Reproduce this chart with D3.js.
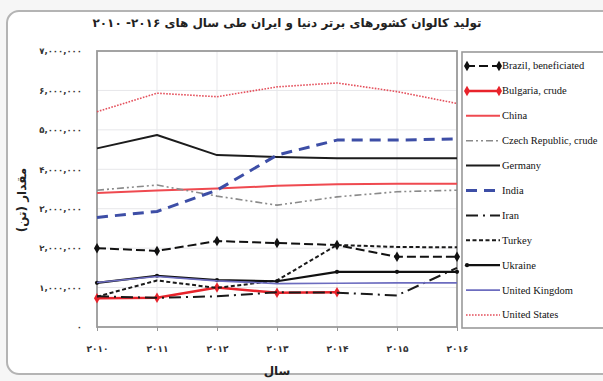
<!DOCTYPE html>
<html>
<head>
<meta charset="utf-8">
<script src="https://cdn.jsdelivr.net/npm/d3@7"></script>
<style>
  html, body { margin: 0; padding: 0; background: #f6f6f6; }
  svg { display: block; }
</style>
</head>
<body>
<svg id="chart" width="603" height="381"></svg>
<script>
// Years on the x axis and their Persian labels
const years = [2010, 2011, 2012, 2013, 2014, 2015, 2016];
const yearLabels = ["۲۰۱۰", "۲۰۱۱", "۲۰۱۲", "۲۰۱۳", "۲۰۱۴", "۲۰۱۵", "۲۰۱۶"];

// Value axis ticks (tonnes) and their Persian labels
const yTickValues = [0, 1000000, 2000000, 3000000, 4000000, 5000000, 6000000, 7000000];
const yTickLabels = ["۰", "۱,۰۰۰,۰۰۰", "۲,۰۰۰,۰۰۰", "۳,۰۰۰,۰۰۰", "۴,۰۰۰,۰۰۰",
                     "۵,۰۰۰,۰۰۰", "۶,۰۰۰,۰۰۰", "۷,۰۰۰,۰۰۰"];

// Kaolin production per country, tonnes
const brazil   = [2000000, 1930000, 2180000, 2130000, 2080000, 1780000, 1780000];
const bulgaria = [730000, 740000, 1000000, 870000, 880000, null, null];
const china    = [3400000, 3460000, 3510000, 3580000, 3620000, 3630000, 3630000];
const czech    = [3470000, 3600000, 3320000, 3090000, 3300000, 3430000, 3470000];
const germany  = [4530000, 4870000, 4360000, 4310000, 4280000, 4280000, 4280000];
const india    = [2780000, 2930000, 3470000, 4360000, 4740000, 4740000, 4770000];
const iran     = [780000, 740000, 780000, 880000, 870000, 800000, 1500000];
const turkey   = [770000, 1180000, 990000, 1180000, 2080000, 2030000, 2020000];
const ukraine  = [1120000, 1300000, 1190000, 1160000, 1400000, 1400000, 1400000];
const uk       = [1130000, 1280000, 1170000, 1100000, 1110000, 1120000, 1120000];
const us       = [5460000, 5930000, 5840000, 6090000, 6190000, 5970000, 5670000];

const seriesNames = ["Brazil, beneficiated", "Bulgaria, crude", "China", "Czech Republic, crude",
  "Germany", "India", "Iran", "Turkey", "Ukraine", "United Kingdom", "United States"];

const series = [
  { name: seriesNames[0],  values: brazil,   color: "#111", width: 2,   dash: "9,4",     marker: "diamond" },
  { name: seriesNames[1],  values: bulgaria, color: "#e8232b", width: 2.5, dash: null,  marker: "diamond" },
  { name: seriesNames[2],  values: china,    color: "#ef4a50", width: 2,   dash: null },
  { name: seriesNames[3],  values: czech,    color: "#8a8a8a", width: 1.6, dash: "7,3,2,3,2,3" },
  { name: seriesNames[4],  values: germany,  color: "#1c1c1c", width: 2,   dash: null },
  { name: seriesNames[5],  values: india,    color: "#3d4ea6", width: 3,   dash: "11,7" },
  { name: seriesNames[6],  values: iran,     color: "#1a1a1a", width: 2,   dash: "12,5,2,5" },
  { name: seriesNames[7],  values: turkey,   color: "#1a1a1a", width: 2,   dash: "4,2.5" },
  { name: seriesNames[8],  values: ukraine,  color: "#111", width: 2.2, dash: null,      marker: "circle" },
  { name: seriesNames[9],  values: uk,       color: "#6c6cbf", width: 1.6, dash: null },
  { name: seriesNames[10], values: us,       color: "#e4505c", width: 1.6, dash: "1.6,1.4" }
];

const svg = d3.select("#chart");
const margin = { left: 97, right: 457, top: 51, bottom: 327 };

// Outer rounded frame
svg.append("rect")
  .attr("x", 7).attr("y", 11).attr("width", 610).attr("height", 363)
  .attr("rx", 12).attr("fill", "#fff")
  .attr("stroke", "#b4b4b4").attr("stroke-width", 2);

const x = d3.scaleLinear().domain([2010, 2016]).range([margin.left, margin.right]);
const y = d3.scaleLinear().domain([0, 7000000]).range([margin.bottom, margin.top]);

// Grid
const grid = svg.append("g");
grid.selectAll("line.h").data(yTickValues.slice(1, -1)).join("line")
  .attr("x1", margin.left).attr("x2", margin.right)
  .attr("y1", d => y(d)).attr("y2", d => y(d))
  .attr("stroke", "#e7e7ea").attr("stroke-width", 1);
grid.selectAll("line.v").data(years.slice(1, -1)).join("line")
  .attr("y1", margin.top).attr("y2", margin.bottom)
  .attr("x1", d => x(d)).attr("x2", d => x(d))
  .attr("stroke", "#e7e7ea").attr("stroke-width", 1);

// Axes
const xAxis = d3.axisBottom(x).tickValues(years)
  .tickFormat((d, i) => yearLabels[i]).tickSize(4).tickPadding(15);
const gx = svg.append("g").attr("transform", `translate(0,${margin.bottom})`).call(xAxis);
gx.select(".domain").remove();
gx.selectAll(".tick line").attr("stroke", "#999");
gx.selectAll("text").attr("font-family", "DejaVu Sans").attr("font-size", 9)
  .attr("font-weight", "bold").attr("fill", "#333");

const yAxis = d3.axisLeft(y).tickValues(yTickValues)
  .tickFormat((d, i) => yTickLabels[i]).tickSize(0).tickPadding(15);
const gy = svg.append("g").attr("transform", `translate(${margin.left},0)`).call(yAxis);
gy.select(".domain").remove();
gy.selectAll("text").attr("font-family", "DejaVu Sans").attr("font-size", 8.5)
  .attr("font-weight", "bold").attr("fill", "#333");

// Plot border
svg.append("rect")
  .attr("x", margin.left).attr("y", margin.top)
  .attr("width", margin.right - margin.left).attr("height", margin.bottom - margin.top)
  .attr("fill", "none").attr("stroke", "#9a9a9a").attr("stroke-width", 1.8);

// Series lines
const line = d3.line()
  .defined(d => d.v !== null)
  .x(d => x(d.year)).y(d => y(d.v));

const diamond = d3.symbol().type(d3.symbolDiamond).size(32);
const circle = d3.symbol().type(d3.symbolCircle).size(14);

const plot = svg.append("g");
series.forEach(s => {
  const pts = years.map((yr, i) => ({ year: yr, v: s.values[i] }));
  plot.append("path").datum(pts)
    .attr("d", line)
    .attr("fill", "none")
    .attr("stroke", s.color)
    .attr("stroke-width", s.width)
    .attr("stroke-dasharray", s.dash)
    .attr("stroke-linejoin", "round");
  if (s.marker) {
    plot.selectAll(null).data(pts.filter(p => p.v !== null)).join("path")
      .attr("transform", p => `translate(${x(p.year)},${y(p.v)})`)
      .attr("d", s.marker === "diamond" ? diamond : circle)
      .attr("fill", s.color);
  }
});

// Legend
const lg = svg.append("g");
lg.append("rect").attr("x", 462).attr("y", 52).attr("width", 150).attr("height", 276)
  .attr("fill", "#fff").attr("stroke", "#9a9a9a").attr("stroke-width", 1.6);
const legendY = i => 66 + i * 24.9;
series.forEach((s, i) => {
  const ly = legendY(i);
  lg.append("line").attr("x1", 466).attr("x2", 500).attr("y1", ly).attr("y2", ly)
    .attr("stroke", s.color).attr("stroke-width", s.width)
    .attr("stroke-dasharray", s.dash);
  if (s.marker === "diamond") {
    [467, 499].forEach(mx => lg.append("path")
      .attr("transform", `translate(${mx},${ly})`).attr("d", diamond).attr("fill", s.color));
  } else if (s.marker === "circle") {
    lg.append("path").attr("transform", `translate(467,${ly})`).attr("d", circle).attr("fill", s.color);
  }
  lg.append("text").attr("x", 502).attr("y", ly + 3.4)
    .attr("font-family", "Liberation Serif").attr("font-size", 10.5)
    .attr("fill", "#111").text(s.name);
});

// Titles
svg.append("text").attr("x", 287).attr("y", 27)
  .attr("direction", "rtl").attr("text-anchor", "middle")
  .attr("font-family", "DejaVu Sans").attr("font-weight", "bold").attr("font-size", 12)
  .attr("fill", "#222")
  .text("تولید کالوان کشورهای برتر دنیا و ایران طی سال های ۲۰۱۶- ۲۰۱۰");

svg.append("text").attr("transform", "translate(26,200) rotate(-90)")
  .attr("direction", "rtl").attr("text-anchor", "middle")
  .attr("font-family", "DejaVu Sans").attr("font-weight", "bold").attr("font-size", 12)
  .attr("fill", "#222").text("مقدار (تن)");

svg.append("text").attr("x", 277).attr("y", 375)
  .attr("direction", "rtl").attr("text-anchor", "middle")
  .attr("font-family", "DejaVu Sans").attr("font-weight", "bold").attr("font-size", 12)
  .attr("fill", "#222").text("سال");
</script>
</body>
</html>
